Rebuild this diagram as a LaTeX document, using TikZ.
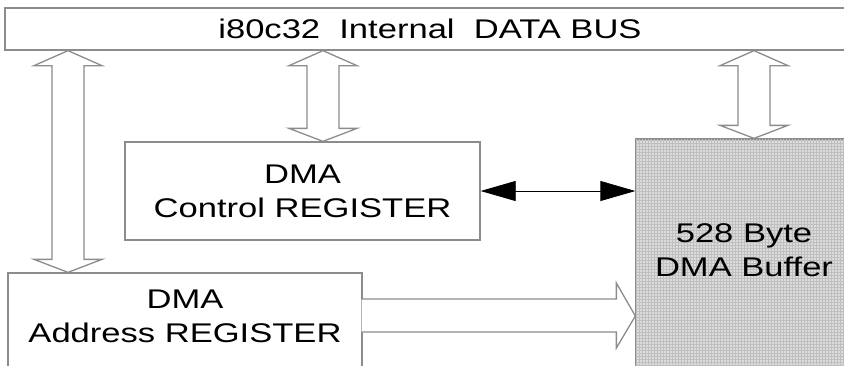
\documentclass[tikz,border=0pt]{standalone}
\usepackage{fontspec}
\setmainfont{Liberation Sans}[FakeStretch=1.28]
\usepackage{tikz}
\usetikzlibrary{calc}
\usetikzlibrary{patterns}
\usetikzlibrary{arrows.meta}
\definecolor{linecolor}{RGB}{140, 140, 140}
\definecolor{buffercolor}{RGB}{220, 220, 220}

\begin{document}
\begin{tikzpicture}[x=1pt, y=-1pt, font=\fontsize{27}{34}\selectfont,
  box/.style={draw=linecolor, line width=1.3pt, inner sep=0pt},
  hollow/.style={draw=linecolor, line width=1.3pt, fill=white, line join=miter}]
  \useasboundingbox (0,0) rectangle (844,365);
  \clip (0,0) rectangle (844,365);

  % Bus interno
  \node[box, minimum width=850, minimum height=42] (bus) at (430,29) {i80c32\ \ Internal\ \ DATA BUS};

  % Registros
  \node[box, minimum width=355, minimum height=98, align=center] (ctrl) at (302.5,191) {DMA\\Control REGISTER};
  \node[box, minimum width=354, minimum height=130] (addr) at (185,338) {};
  \node[align=center] (addrtext) at (185,316) {DMA\\Address REGISTER};

  % Buffer
  \node[box, fill=buffercolor, postaction={pattern=grid, pattern color=gray!50}, minimum width=216, minimum height=250] (buf) at (744,264) {};
  \node[align=center] (buftext) at (744,250) {528 Byte\\DMA Buffer};

  % Flechas huecas desde el bus
  \foreach \x/\a/\b in {68/bus/addr, 323/bus/ctrl, 754/bus/buf} {
    \coordinate (t) at (\x,0 |- \a.south);
    \coordinate (b) at (\x,0 |- \b.north);
    \draw[hollow] (t) -- ($(t)+(-34,15)$) -- ($(t)+(-16,15)$) -- ($(b)+(-16,-13)$) -- ($(b)+(-34,-13)$) -- (b)
      -- ($(b)+(34,-13)$) -- ($(b)+(16,-13)$) -- ($(t)+(16,15)$) -- ($(t)+(34,15)$) -- cycle;
  }

  % Flecha ancha: direccion -> buffer
  \coordinate (tip) at (buf.west |- 0,316);
  \draw[hollow] ([xshift=-1pt]addr.east |- 0,299) -- ($(tip)+(-19,-17)$) -- ($(tip)+(-19,-33)$) -- (tip)
    -- ($(tip)+(-19,32)$) -- ($(tip)+(-19,16)$) -- ([xshift=-1pt]addr.east |- 0,332);

  % Control <-> buffer
  \draw[{Triangle[length=35pt,width=20pt]}-{Triangle[length=35pt,width=20pt]}, line width=0.8pt, black] (ctrl.east) -- (ctrl.east -| buf.west);
\end{tikzpicture}
\end{document}
